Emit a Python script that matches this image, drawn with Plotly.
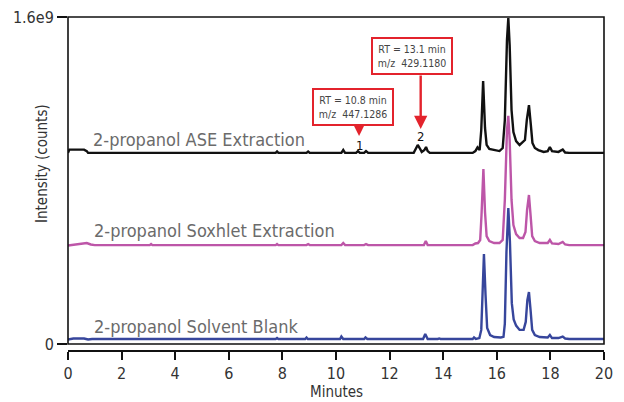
import plotly.graph_objects as go

# ---------------- data (intensity in units of 1e9 counts) ----------------
ase_time = [0.0, 0.05, 0.6, 0.7, 0.75, 3.05, 3.1, 3.15, 7.75, 7.8, 7.85, 8.9, 8.96, 9.02,
            10.2, 10.27, 10.34, 10.75, 10.82, 10.89, 11.05, 11.12, 11.2, 12.9, 13.0, 13.05,
            13.12, 13.2, 13.3, 13.36, 13.42, 13.5, 15.1, 15.2, 15.28, 15.36, 15.42, 15.49,
            15.56, 15.62, 15.72, 15.86, 16.1, 16.22, 16.3, 16.38, 16.43, 16.48, 16.55, 16.62,
            16.72, 16.85, 16.95, 17.05, 17.12, 17.2, 17.27, 17.33, 17.42, 17.55, 17.75, 17.9,
            17.98, 18.06, 18.3, 18.46, 18.55, 18.7, 20.0]
ase_int = [0.935, 0.951, 0.951, 0.944, 0.935, 0.935, 0.938, 0.935, 0.935, 0.942, 0.935, 0.935, 0.942, 0.935,
           0.935, 0.949, 0.935, 0.935, 0.944, 0.935, 0.935, 0.944, 0.935, 0.935, 0.959, 0.974,
           0.959, 0.940, 0.949, 0.964, 0.944, 0.935, 0.935, 0.944, 0.962, 0.949, 1.047, 1.287,
           1.057, 0.974, 0.954, 0.949, 0.944, 0.959, 1.096, 1.488, 1.595, 1.463, 1.145, 1.037,
           0.993, 0.974, 0.984, 0.998, 1.096, 1.169, 1.072, 0.984, 0.959, 0.949, 0.940, 0.944,
           0.964, 0.944, 0.940, 0.952, 0.937, 0.935, 0.935]

sox_time = [0.0, 0.3, 0.5, 0.7, 0.85, 1.0, 3.05, 3.1, 3.15, 7.75, 7.8, 7.85, 8.9, 8.96, 9.02,
            10.2, 10.27, 10.34, 11.05, 11.12, 11.2, 13.28, 13.35, 13.42, 15.1, 15.2, 15.3,
            15.38, 15.43, 15.5, 15.56, 15.62, 15.72, 15.9, 16.1, 16.22, 16.3, 16.38, 16.43,
            16.48, 16.55, 16.62, 16.72, 16.85, 16.98, 17.07, 17.13, 17.2, 17.26, 17.32, 17.42,
            17.6, 17.9, 17.98, 18.06, 18.3, 18.46, 18.55, 18.7, 20.0]
sox_int = [0.482, 0.487, 0.494, 0.494, 0.487, 0.484, 0.484, 0.489, 0.484, 0.484, 0.489, 0.484, 0.484, 0.489, 0.484,
           0.484, 0.494, 0.484, 0.484, 0.489, 0.484, 0.484, 0.504, 0.484, 0.484, 0.492, 0.494,
           0.509, 0.631, 0.856, 0.646, 0.528, 0.504, 0.494, 0.494, 0.509, 0.705, 1.047, 1.116,
           0.998, 0.705, 0.582, 0.538, 0.519, 0.519, 0.548, 0.656, 0.729, 0.631, 0.528, 0.504,
           0.494, 0.494, 0.509, 0.492, 0.489, 0.499, 0.487, 0.484, 0.484]

blank_time = [0.0, 0.2, 0.6, 0.75, 0.9, 3.05, 3.1, 3.15, 7.75, 7.8, 7.85, 8.85, 8.9, 8.95,
              10.15, 10.2, 10.27, 11.05, 11.1, 11.17, 13.25, 13.33, 13.42, 13.8, 13.85, 13.9,
              15.1, 15.15, 15.22, 15.35, 15.42, 15.46, 15.52, 15.58, 15.64, 15.75, 15.9, 16.15,
              16.25, 16.3, 16.36, 16.43, 16.49, 16.56, 16.63, 16.72, 16.85, 17.0, 17.08, 17.14,
              17.2, 17.26, 17.32, 17.42, 17.6, 17.9, 17.98, 18.06, 18.3, 18.46, 18.55, 18.7, 20.0]
blank_int = [0.022, 0.027, 0.027, 0.022, 0.0245, 0.0245, 0.027, 0.0245, 0.0245, 0.029, 0.0245, 0.0245, 0.032, 0.0245,
             0.0245, 0.037, 0.0245, 0.0245, 0.032, 0.0245, 0.0245, 0.049, 0.0245, 0.0245, 0.027, 0.0245,
             0.0245, 0.032, 0.0245, 0.029, 0.069, 0.215, 0.440, 0.240, 0.078, 0.044, 0.034, 0.032,
             0.035, 0.10, 0.45, 0.665, 0.50, 0.20, 0.12, 0.09, 0.069, 0.069, 0.108, 0.215,
             0.254, 0.166, 0.069, 0.044, 0.034, 0.032, 0.044, 0.029, 0.029, 0.036, 0.027, 0.0245, 0.0245]

series_names = ["2-propanol ASE Extraction", "2-propanol Soxhlet Extraction", "2-propanol Solvent Blank"]
series_colors = ["#111111", "#bd56a8", "#37469c"]
label_x = [0.86, 0.88, 0.88]
label_y = [1.000, 0.553, 0.088]

x_ticks = [0, 2, 4, 6, 8, 10, 12, 14, 16, 18, 20]
y_ticks = [0, 1.6]
y_ticktext = ["0", "1.6e9"]

peak_labels = ["1", "2"]
peak_rt = [10.86, 13.16]
peak_label_y = [0.970, 1.014]
arrow_tail_y = [1.067, 1.321]
arrow_tip_y = [1.018, 1.052]
box_x = [10.616, 12.85]
box_y = [1.160, 1.409]
box_text = ["RT = 10.8 min<br>m/z  447.1286", "RT = 13.1 min<br>m/z  429.1180"]

FONT = "DejaVu Sans Condensed, Liberation Sans Narrow, Arial Narrow, sans-serif"
RED = "#e3232c"

fig = go.Figure()
for t, v, c in zip([ase_time, sox_time, blank_time], [ase_int, sox_int, blank_int], series_colors):
    fig.add_trace(go.Scatter(x=t, y=v, mode="lines", line=dict(color=c, width=2.4),
                             showlegend=False, hoverinfo="skip"))

annotations = []
for name, lx, ly in zip(series_names, label_x, label_y):
    annotations.append(dict(x=lx, y=ly, xref="x", yref="y", text=name, showarrow=False,
                            xanchor="left", yanchor="middle",
                            font=dict(family=FONT, size=18, color="#6b6b6b")))
for lab, rt, py in zip(peak_labels, peak_rt, peak_label_y):
    annotations.append(dict(x=rt, y=py, xref="x", yref="y", text=lab, showarrow=False,
                            xanchor="center", yanchor="middle",
                            font=dict(family=FONT, size=13, color="#111111")))
for rt, ty, hy in zip(peak_rt, arrow_tail_y, arrow_tip_y):
    annotations.append(dict(x=rt, y=hy, xref="x", yref="y", ax=rt, ay=ty, axref="x", ayref="y",
                            text="", showarrow=True, arrowhead=2, arrowsize=1.1, arrowwidth=2.4,
                            arrowcolor=RED, standoff=0))
for bx, by, bt in zip(box_x, box_y, box_text):
    annotations.append(dict(x=bx, y=by, xref="x", yref="y", text=bt, showarrow=False,
                            xanchor="center", yanchor="middle", align="center",
                            width=76, height=32, borderpad=1, bordercolor=RED, borderwidth=2,
                            bgcolor="white",
                            font=dict(family=FONT, size=10.5, color="#444444")))
# axis titles
annotations.append(dict(x=-0.0485, y=0.56, xref="paper", yref="paper", text="Intensity (counts)",
                        textangle=-90, showarrow=False, xanchor="center", yanchor="middle",
                        font=dict(family=FONT, size=15, color="#333333")))
annotations.append(dict(x=0.5, y=-0.1228, xref="paper", yref="paper", text="Minutes",
                        showarrow=False, xanchor="center", yanchor="middle",
                        font=dict(family=FONT, size=15, color="#333333")))

fig.update_layout(
    width=624, height=402,
    margin=dict(l=68, r=20, t=17, b=51, autoexpand=False),
    paper_bgcolor="white", plot_bgcolor="white",
    annotations=annotations,
    shapes=[dict(type="rect", xref="x domain", yref="y domain", x0=0, x1=1, y0=0, y1=1,
                 line=dict(color="#111111", width=1.6), fillcolor="rgba(0,0,0,0)", layer="above")],
    xaxis=dict(range=[0, 20], tickvals=x_ticks, ticks="outside", ticklen=8, tickwidth=2,
               tickcolor="#111111", showline=True, linewidth=2, linecolor="#111111",
               showgrid=False, zeroline=False, anchor="free", position=0, automargin=False,
               tickfont=dict(family=FONT, size=16, color="#333333")),
    yaxis=dict(range=[0, 1.6], domain=[7 / 334, 1], tickvals=y_ticks, ticktext=y_ticktext,
               ticks="outside", ticklen=10, tickwidth=1.6, tickcolor="#111111",
               showline=False, showgrid=False, zeroline=False, automargin=False,
               tickfont=dict(family=FONT, size=16, color="#333333")),
)

fig.write_html("out.html")
